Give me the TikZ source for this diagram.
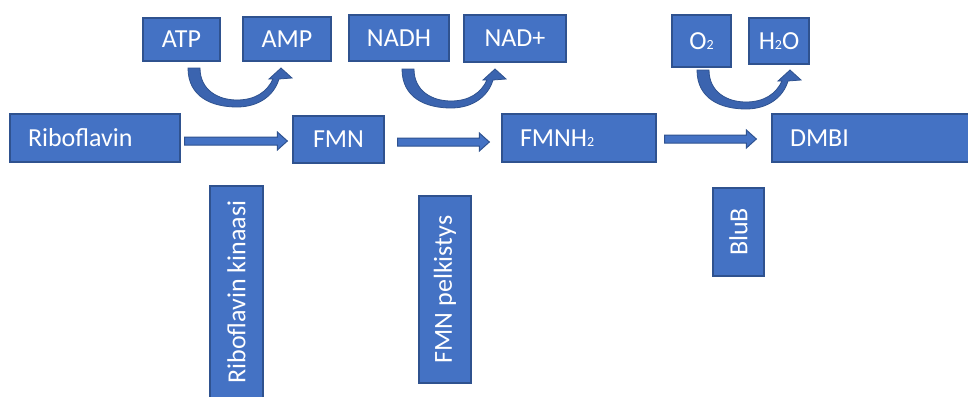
\documentclass[tikz,border=0pt]{standalone}
\usepackage{fontspec}
\setmainfont{Carlito}
\usetikzlibrary{calc}
\definecolor{boxblue}{HTML}{4472C4}
\definecolor{edgeblue}{HTML}{2F528F}
\definecolor{curveblue}{HTML}{3B64AF}
\newcommand\subtwo{{\fontsize{14}{14}\selectfont\raisebox{-0.5pt}{2}}}
\newcommand\blockarrow[2]{\path[blockarrowstyle] let \p1=(#1), \p2=(#2) in
  (\x1,\y1+4pt) -- (\x2-10pt,\y1+4pt) -- (\x2-10pt,\y1+9pt) -- (\x2,\y1) --
  (\x2-10pt,\y1-9pt) -- (\x2-10pt,\y1-4pt) -- (\x1,\y1-4pt) -- cycle;}
\tikzset{
  box/.style={draw=edgeblue, fill=boxblue, line width=1.3pt, text=white,
    inner sep=0pt, font=\fontsize{26}{31}\selectfont},
  leftbox/.style={box, align=left, inner xsep=18pt},
  vbox/.style={box, rotate=90},
  blockarrowstyle/.style={draw=edgeblue, fill=boxblue, line width=1pt, line join=miter},
  curvedarrowstyle/.style={draw=edgeblue, fill=curveblue, line width=0.8pt, line join=miter},
  curvedarrow/.pic={
    \path[curvedarrowstyle] (0,0) .. controls (0,29) and (24,39) .. (49,39)
      .. controls (70,39) and (86,28) .. (91,11)
      -- (104,10) -- (93,0) -- (81,11) -- (85,11)
      .. controls (79,24) and (67,32) .. (49,32)
      .. controls (30,32) and (12,22) .. (12,0) -- cycle;
  }
}
\begin{document}
\begin{tikzpicture}[x=1pt,y=-1pt]
\path[fill=white] (0,0) rectangle (968,396);
\useasboundingbox (0,0) rectangle (968,396);

% top boxes
\node[box, minimum width=77pt, minimum height=43pt] (atp) at (181.5,39.5) {ATP};
\node[box, minimum width=88pt, minimum height=44pt] (amp) at (287,39) {AMP};
\node[box, minimum width=100pt, minimum height=46pt] (nadh) at (399,38) {NADH};
\node[box, minimum width=102pt, minimum height=47pt] (nadp) at (515,38.5) {NAD+};
\node[box, minimum width=59pt, minimum height=52pt] (o2) at (701.5,41) {O\subtwo};
\node[box, minimum width=60pt, minimum height=46pt] (h2o) at (779,41) {H\subtwo O};

% main row
\node[leftbox, text width=134pt, minimum height=48pt] (ribo) at (95,138) {Riboflavin};
\node[box, minimum width=91pt, minimum height=47pt] (fmn) at (338.5,139.5) {FMN};
\node[leftbox, text width=118pt, minimum height=48pt] (fmnh2) at (579,138) {FMNH\subtwo};
\node[leftbox, text width=167pt, minimum height=48pt] (dmbi) at (873.5,138) {DMBI};

% enzymes
\node[vbox, minimum width=212pt, minimum height=53pt] (kin) at (236.5,292) {Riboflavin kinaasi};
\node[vbox, minimum width=187pt, minimum height=52pt] (pelk) at (445,289.5) {FMN pelkistys};
\node[vbox, minimum width=88pt, minimum height=51pt] (blub) at (738.5,232) {BluB};

% straight block arrows
\coordinate (a1s) at ($(ribo.east)+(4,3)$);
\coordinate (a1e) at ($(a1s -| fmn.west)+(-5,0)$);
\coordinate (a2s) at ($(fmn.east)+(13,2.5)$);
\coordinate (a2e) at ($(a2s -| fmnh2.west)+(-12,0)$);
\coordinate (a3s) at ($(fmnh2.east)+(8,1)$);
\coordinate (a3e) at ($(a3s -| dmbi.west)+(-15,0)$);
\blockarrow{a1s}{a1e}
\blockarrow{a2s}{a2e}
\blockarrow{a3s}{a3e}

% curved arrows
\coordinate (c1) at (188,68);
\coordinate (c2) at (402,69);
\coordinate (c3) at (697,70);
\pic at (c1) {curvedarrow};
\pic at (c2) {curvedarrow};
\pic at (c3) {curvedarrow};
\end{tikzpicture}
\end{document}
